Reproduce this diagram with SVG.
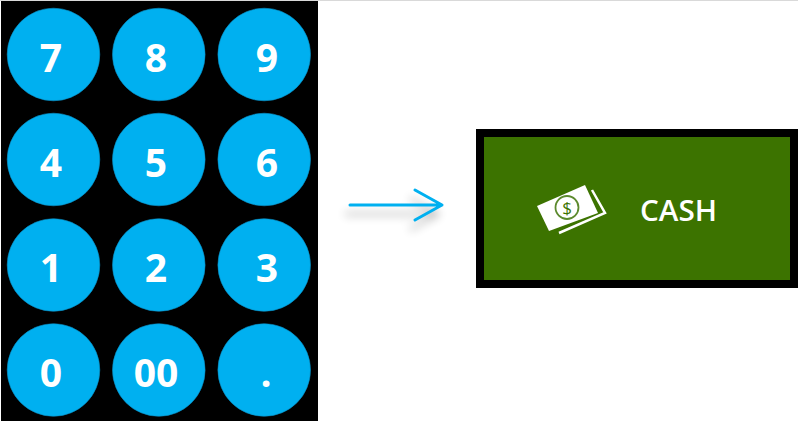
<svg xmlns="http://www.w3.org/2000/svg" width="798" height="422" viewBox="0 0 798 422">
<defs><filter id="blur" x="-30%" y="-60%" width="160%" height="220%"><feGaussianBlur stdDeviation="5"/></filter></defs>
<style>
.k{fill:#00b0f0;stroke:#0a8fc4;stroke-width:.6}
.d{font-family:"Open Sans",sans-serif;font-weight:700;font-size:39px;fill:#fff;text-anchor:middle}
.a{fill:none;stroke-linecap:round;stroke-linejoin:round;stroke-width:3}
</style>
<rect width="798" height="422" fill="#fff"/>
<rect x="0" y="0" width="798" height="1" fill="#d9d9d9"/>
<rect x="1" y="1" width="317" height="420" fill="#000"/>
<g id="key7"><circle class="k" cx="53.5" cy="54.5" r="46.3"/><text class="d" x="51" y="71.5">7</text></g>
<g id="key8"><circle class="k" cx="158.8" cy="54.5" r="46.3"/><text class="d" x="156" y="71.5">8</text></g>
<g id="key9"><circle class="k" cx="264.2" cy="54.5" r="46.3"/><text class="d" x="267" y="71.5">9</text></g>
<g id="key4"><circle class="k" cx="53.5" cy="159.5" r="46.3"/><text class="d" x="51" y="176.5">4</text></g>
<g id="key5"><circle class="k" cx="158.8" cy="159.5" r="46.3"/><text class="d" x="156" y="176.5">5</text></g>
<g id="key6"><circle class="k" cx="264.2" cy="159.5" r="46.3"/><text class="d" x="267" y="176.5">6</text></g>
<g id="key1"><circle class="k" cx="53.5" cy="265" r="46.3"/><text class="d" x="51" y="281.5">1</text></g>
<g id="key2"><circle class="k" cx="158.8" cy="265" r="46.3"/><text class="d" x="156" y="281.5">2</text></g>
<g id="key3"><circle class="k" cx="264.2" cy="265" r="46.3"/><text class="d" x="267" y="281.5">3</text></g>
<g id="key0"><circle class="k" cx="53.5" cy="370" r="46.3"/><text class="d" x="51" y="386.5">0</text></g>
<g id="key00"><circle class="k" cx="158.8" cy="370" r="46.3"/><text class="d" x="156" y="386.5">00</text></g>
<g id="keydot"><circle class="k" cx="264.2" cy="370" r="46.3"/><text class="d" x="266" y="386.5">.</text></g>
<g id="connectors">
<g class="a" stroke="#000" opacity=".3" filter="url(#blur)" transform="translate(-4,9)"><path d="M350 205H442M415 190L442 205L415 220"/></g>
<path class="a" stroke="#00b0f0" d="M350 205H442M415 190L442 205L415 220"/>
</g>
<g id="cash">
<rect x="480" y="133" width="314" height="151" fill="#3c7300" stroke="#000" stroke-width="8"/>
<path fill="#fff" d="M537 206L585 185L598 213L549 231Z"/>
<path fill="none" stroke="#fff" stroke-width="2.5" d="M592 190L605 213L559 233"/>
<circle cx="567" cy="207.500" r="11.500" fill="none" stroke="#5c8a2e" stroke-width="1.800"/>
<text x="567" y="214" font-family="Open Sans,sans-serif" font-size="17" fill="#3c7300" text-anchor="middle">$</text>
<text x="640" y="221" font-family="Open Sans,sans-serif" font-size="29" font-weight="600" fill="#fff" textLength="77" lengthAdjust="spacingAndGlyphs">CASH</text>
</g>
</svg>
